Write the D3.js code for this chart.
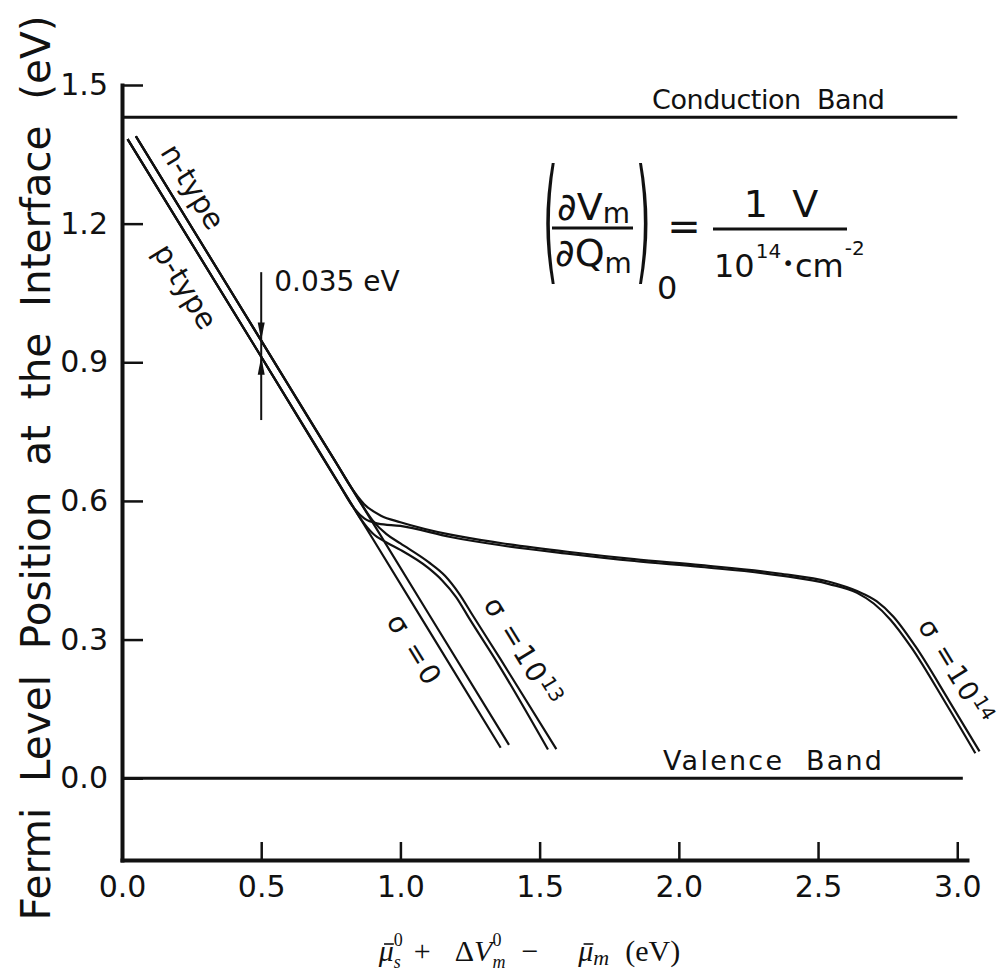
<!DOCTYPE html>
<html>
<head>
<meta charset="utf-8">
<script src="https://cdn.jsdelivr.net/npm/d3@7"></script>
<style>
  html, body { margin: 0; padding: 0; background: #fff; }
  svg { display: block; }
</style>
</head>
<body>
<svg id="chart" width="1006" height="974"></svg>
<script>
// Fermi level position at the semiconductor/metal interface versus
// mu_s0 + dV_m0 - mu_m, for n- and p-type material and three surface-state densities.

const xTicks = [0.0, 0.5, 1.0, 1.5, 2.0, 2.5, 3.0];
const yTicks = [0.0, 0.3, 0.6, 0.9, 1.2, 1.5];

const conductionBand = [[0.0, 1.43], [3.0, 1.43]];
const valenceBand = [[0.0, 0.0], [3.02, 0.0]];

// sigma = 0 (no interface states): straight lines
const nTypeSigma0 = [[0.05, 1.389], [0.30, 1.143], [0.50, 0.947], [0.80, 0.652], [1.10, 0.357], [1.39, 0.072]];
const pTypeSigma0 = [[0.02, 1.383], [0.30, 1.108], [0.50, 0.912], [0.80, 0.617], [1.10, 0.322], [1.36, 0.066]];

// sigma = 10^13
const nTypeSigma13 = [[0.05, 1.389], [0.50, 0.947], [0.80, 0.652], [0.85, 0.603], [0.90, 0.558], [0.95, 0.528],
  [1.00, 0.508], [1.10, 0.468], [1.16, 0.438], [1.21, 0.400], [1.26, 0.352], [1.36, 0.257], [1.56, 0.063]];
const pTypeSigma13 = [[0.02, 1.383], [0.50, 0.912], [0.82, 0.597], [0.86, 0.559], [0.90, 0.530], [0.95, 0.510],
  [1.00, 0.494], [1.10, 0.455], [1.15, 0.428], [1.20, 0.392], [1.25, 0.343], [1.35, 0.248], [1.53, 0.062]];

// sigma = 10^14
const nTypeSigma14 = [[0.05, 1.389], [0.50, 0.947], [0.72, 0.730], [0.77, 0.682], [0.82, 0.632], [0.87, 0.593],
  [0.93, 0.568], [1.00, 0.554], [1.18, 0.527], [1.36, 0.509], [1.60, 0.490], [1.84, 0.474], [2.08, 0.461],
  [2.36, 0.443], [2.54, 0.425], [2.64, 0.405], [2.71, 0.383], [2.77, 0.350], [2.85, 0.285], [2.97, 0.168], [3.08, 0.058]];
const pTypeSigma14 = [[0.02, 1.383], [0.50, 0.912], [0.78, 0.636], [0.83, 0.587], [0.87, 0.562], [0.92, 0.551],
  [1.00, 0.546], [1.18, 0.522], [1.36, 0.504], [1.60, 0.486], [1.84, 0.470], [2.08, 0.457], [2.36, 0.439],
  [2.54, 0.420], [2.64, 0.401], [2.70, 0.378], [2.76, 0.343], [2.835, 0.283], [2.955, 0.166], [3.065, 0.054]];

const curves = [nTypeSigma0, pTypeSigma0, nTypeSigma13, pTypeSigma13, nTypeSigma14, pTypeSigma14];

// n/p splitting marker
const splitX = 0.5;
const splitLabel = "0.035 eV";
const markerSpan = [1.095, 0.775];

const ink = "#111";
const sans = "'DejaVu Sans', 'Noto Sans', sans-serif";
const serif = "'Liberation Serif', 'DejaVu Serif', serif";

const svg = d3.select("#chart");
const x = d3.scaleLinear().domain([0, 3.035]).range([122, 967]);
const y = d3.scaleLinear().domain([-0.177, 1.5]).range([860, 85]);

// ---- axes ----
const xAxis = d3.axisBottom(x).tickValues(xTicks).tickSizeInner(-18).tickSizeOuter(0)
  .tickPadding(16).tickFormat(d3.format(".1f"));
const yAxis = d3.axisLeft(y).tickValues(yTicks).tickSizeInner(-21).tickSizeOuter(0)
  .tickPadding(14).tickFormat(d3.format(".1f"));

const gx = svg.append("g").attr("transform", `translate(0,${y.range()[0]})`).call(xAxis);
const gy = svg.append("g").attr("transform", `translate(${x.range()[0]},0)`).call(yAxis);
[gx, gy].forEach(g => {
  g.attr("font-family", null).attr("font-size", null);
  g.select(".domain").attr("stroke", ink).attr("stroke-width", 4).attr("stroke-linecap", "square");
  g.selectAll(".tick line").attr("stroke", ink).attr("stroke-width", 2.5);
  g.selectAll(".tick text").attr("fill", ink)
    .style("font-family", sans).style("font-size", "30px");
});

// ---- band edges ----
const straight = d3.line().x(d => x(d[0])).y(d => y(d[1]));
[conductionBand, valenceBand].forEach(b => {
  svg.append("path").attr("d", straight(b)).attr("fill", "none")
    .attr("stroke", ink).attr("stroke-width", 3);
});

svg.append("text").attr("x", 652).attr("y", y(conductionBand[0][1]) - 8)
  .attr("textLength", 233).attr("lengthAdjust", "spacing")
  .style("font-family", sans).style("font-size", "27px").style("white-space", "pre")
  .attr("fill", ink).text("Conduction  Band");
svg.append("text").attr("x", 663).attr("y", y(valenceBand[0][1]) - 8)
  .attr("textLength", 219).attr("lengthAdjust", "spacing")
  .style("font-family", sans).style("font-size", "27px").style("white-space", "pre")
  .attr("fill", ink).text("Valence  Band");

// ---- Fermi level curves ----
const smooth = d3.line().x(d => x(d[0])).y(d => y(d[1])).curve(d3.curveMonotoneX);
svg.append("g").selectAll("path").data(curves).join("path")
  .attr("d", smooth).attr("fill", "none").attr("stroke", ink)
  .attr("stroke-width", 2.2).attr("stroke-linejoin", "round");

// ---- splitting marker at x = 0.5 ----
const nHalf = nTypeSigma0.find(d => d[0] === splitX)[1];
const pHalf = pTypeSigma0.find(d => d[0] === splitX)[1];
const mx = x(splitX);
svg.append("line").attr("x1", mx).attr("x2", mx)
  .attr("y1", y(markerSpan[0])).attr("y2", y(markerSpan[1]))
  .attr("stroke", ink).attr("stroke-width", 2);
const tipN = y(nHalf), tipP = y(pHalf);
svg.append("path").attr("fill", ink)
  .attr("d", `M${mx - 3.5},${tipN - 18}L${mx + 3.5},${tipN - 18}L${mx},${tipN}Z`);
svg.append("path").attr("fill", ink)
  .attr("d", `M${mx - 3.5},${tipP + 18}L${mx + 3.5},${tipP + 18}L${mx},${tipP}Z`);
svg.append("text").attr("x", mx + 13).attr("y", y(markerSpan[0]) + 19)
  .style("font-family", sans).style("font-size", "28px").attr("fill", ink).text(splitLabel);

// ---- curve labels (rotated along the lines) ----
function slopeAngle(a, b) {
  return Math.atan2(y(b[1]) - y(a[1]), x(b[0]) - x(a[0])) * 180 / Math.PI;
}
const angLow = slopeAngle(pTypeSigma0[0], pTypeSigma0[pTypeSigma0.length - 1]);
const angHigh = slopeAngle(nTypeSigma14[nTypeSigma14.length - 3], nTypeSigma14[nTypeSigma14.length - 1]);

function rotLabel(px, py, ang, parts, size) {
  const t = svg.append("text")
    .attr("transform", `translate(${x(px)},${y(py)}) rotate(${ang})`)
    .attr("text-anchor", "middle").attr("dy", "0.35em")
    .style("font-family", sans).style("font-size", size + "px").attr("fill", ink);
  parts.forEach(p => {
    const s = t.append("tspan").text(p.t);
    if (p.sup) s.attr("font-size", size * 0.72).attr("dy", -size * 0.3);
    if (p.ls) s.attr("letter-spacing", p.ls);
  });
  return t;
}
rotLabel(0.255, 1.280, angLow, [{ t: "n-type" }], 29);
rotLabel(0.228, 1.064, angLow, [{ t: "p-type" }], 29);
rotLabel(1.052, 0.277, angLow, [{ t: "σ =0", ls: 3 }], 28);
rotLabel(1.44, 0.275, angLow, [{ t: "σ =10", ls: 2 }, { t: "13", sup: true }], 28);
rotLabel(2.995, 0.232, angHigh, [{ t: "σ =10", ls: 2 }, { t: "14", sup: true }], 27);

// ---- y axis title ----
svg.append("text").attr("transform", "translate(50,468) rotate(-90)")
  .attr("text-anchor", "middle").attr("textLength", 905).attr("lengthAdjust", "spacingAndGlyphs")
  .style("font-family", sans).style("font-size", "41px").style("white-space", "pre")
  .attr("fill", ink).text("Fermi  Level  Position  at  the  Interface  (eV)");

// ---- x axis title (math) ----
const xt = svg.append("g");
const base = 961, big = 30, small = 18;
let cx = 0;
function piece(str, opts = {}) {
  const t = xt.append("text").attr("x", cx).attr("y", base + (opts.dy || 0))
    .style("font-family", serif).style("font-size", (opts.size || big) + "px")
    .style("font-style", opts.italic ? "italic" : "normal").style("white-space", "pre")
    .attr("fill", ink).text(str);
  const w = t.node().getComputedTextLength();
  if (!opts.hold) cx += w + (opts.gap || 0);
  return w;
}
// italic mu with an overbar
function muBar() {
  const start = cx;
  const w = piece("μ", { italic: true });
  xt.append("line").attr("x1", start + w * 0.35).attr("x2", start + w * 1.0)
    .attr("y1", base - 17).attr("y2", base - 17)
    .attr("stroke", ink).attr("stroke-width", 1.6);
}
function stack(sup, sub, subItalic, gap) {
  const start = cx;
  const w1 = piece(sup, { size: small, dy: -15, hold: true });
  const w2 = piece(sub, { size: small, dy: 7, italic: subItalic, hold: true });
  cx = start + Math.max(w1, w2) + (gap || 0);
}
muBar();
stack("0", "s", true, 11);
piece("+", { gap: 24 });
piece("Δ");
piece("V", { italic: true });
stack("0", "m", true, 16);
piece("−", { gap: 40 });
muBar();
piece("m", { italic: true, size: 22, dy: 4, gap: 16 });
piece("(eV)");
const xtb = xt.node().getBBox();
xt.attr("transform", `translate(${529 - xtb.x - xtb.width / 2},0)`);

// ---- equation: (dVm/dQm)_0 = 1 V / 10^14 cm^-2 ----
const eq = svg.append("g").attr("fill", ink).style("font-family", sans);
function eqText(tx, ty, str, size, anchor) {
  return eq.append("text").attr("x", tx).attr("y", ty).attr("text-anchor", anchor || "start")
    .style("font-size", size + "px").style("white-space", "pre").text(str);
}
eq.append("text").attr("transform", "translate(543,266) scale(0.28,1)")
  .style("font-size", "135px").text("(");
eq.append("text").attr("transform", "translate(636,266) scale(0.28,1)")
  .style("font-size", "135px").text(")");
const num = eqText(557, 220, "∂V", 38);
num.append("tspan").attr("font-size", 28).attr("dy", 3).text("m");
const den = eqText(555, 266, "∂Q", 38);
den.append("tspan").attr("font-size", 28).attr("dy", 7).text("m");
eq.append("line").attr("x1", 552).attr("x2", 633).attr("y1", 228).attr("y2", 228)
  .attr("stroke", ink).attr("stroke-width", 3);
eqText(657, 299, "0", 32);
eqText(684, 240, "=", 40, "middle");
eqText(781, 217, "1  V", 38, "middle");
eq.append("line").attr("x1", 713).attr("x2", 847).attr("y1", 229).attr("y2", 229)
  .attr("stroke", ink).attr("stroke-width", 3);

// denominator laid out piece by piece
let dx = 714;
[
  { t: "10", size: 32, dy: 0, gap: 1 },
  { t: "14", size: 20, dy: -19, gap: 1 },
  { t: "•", size: 20, dy: -7, gap: 1 },
  { t: "cm", size: 32, dy: 0, gap: 1 },
  { t: "-2", size: 20, dy: -22, gap: 0 }
].forEach(p => {
  const t = eqText(dx, 277 + p.dy, p.t, p.size);
  dx += t.node().getComputedTextLength() + p.gap;
});
</script>
</body>
</html>
